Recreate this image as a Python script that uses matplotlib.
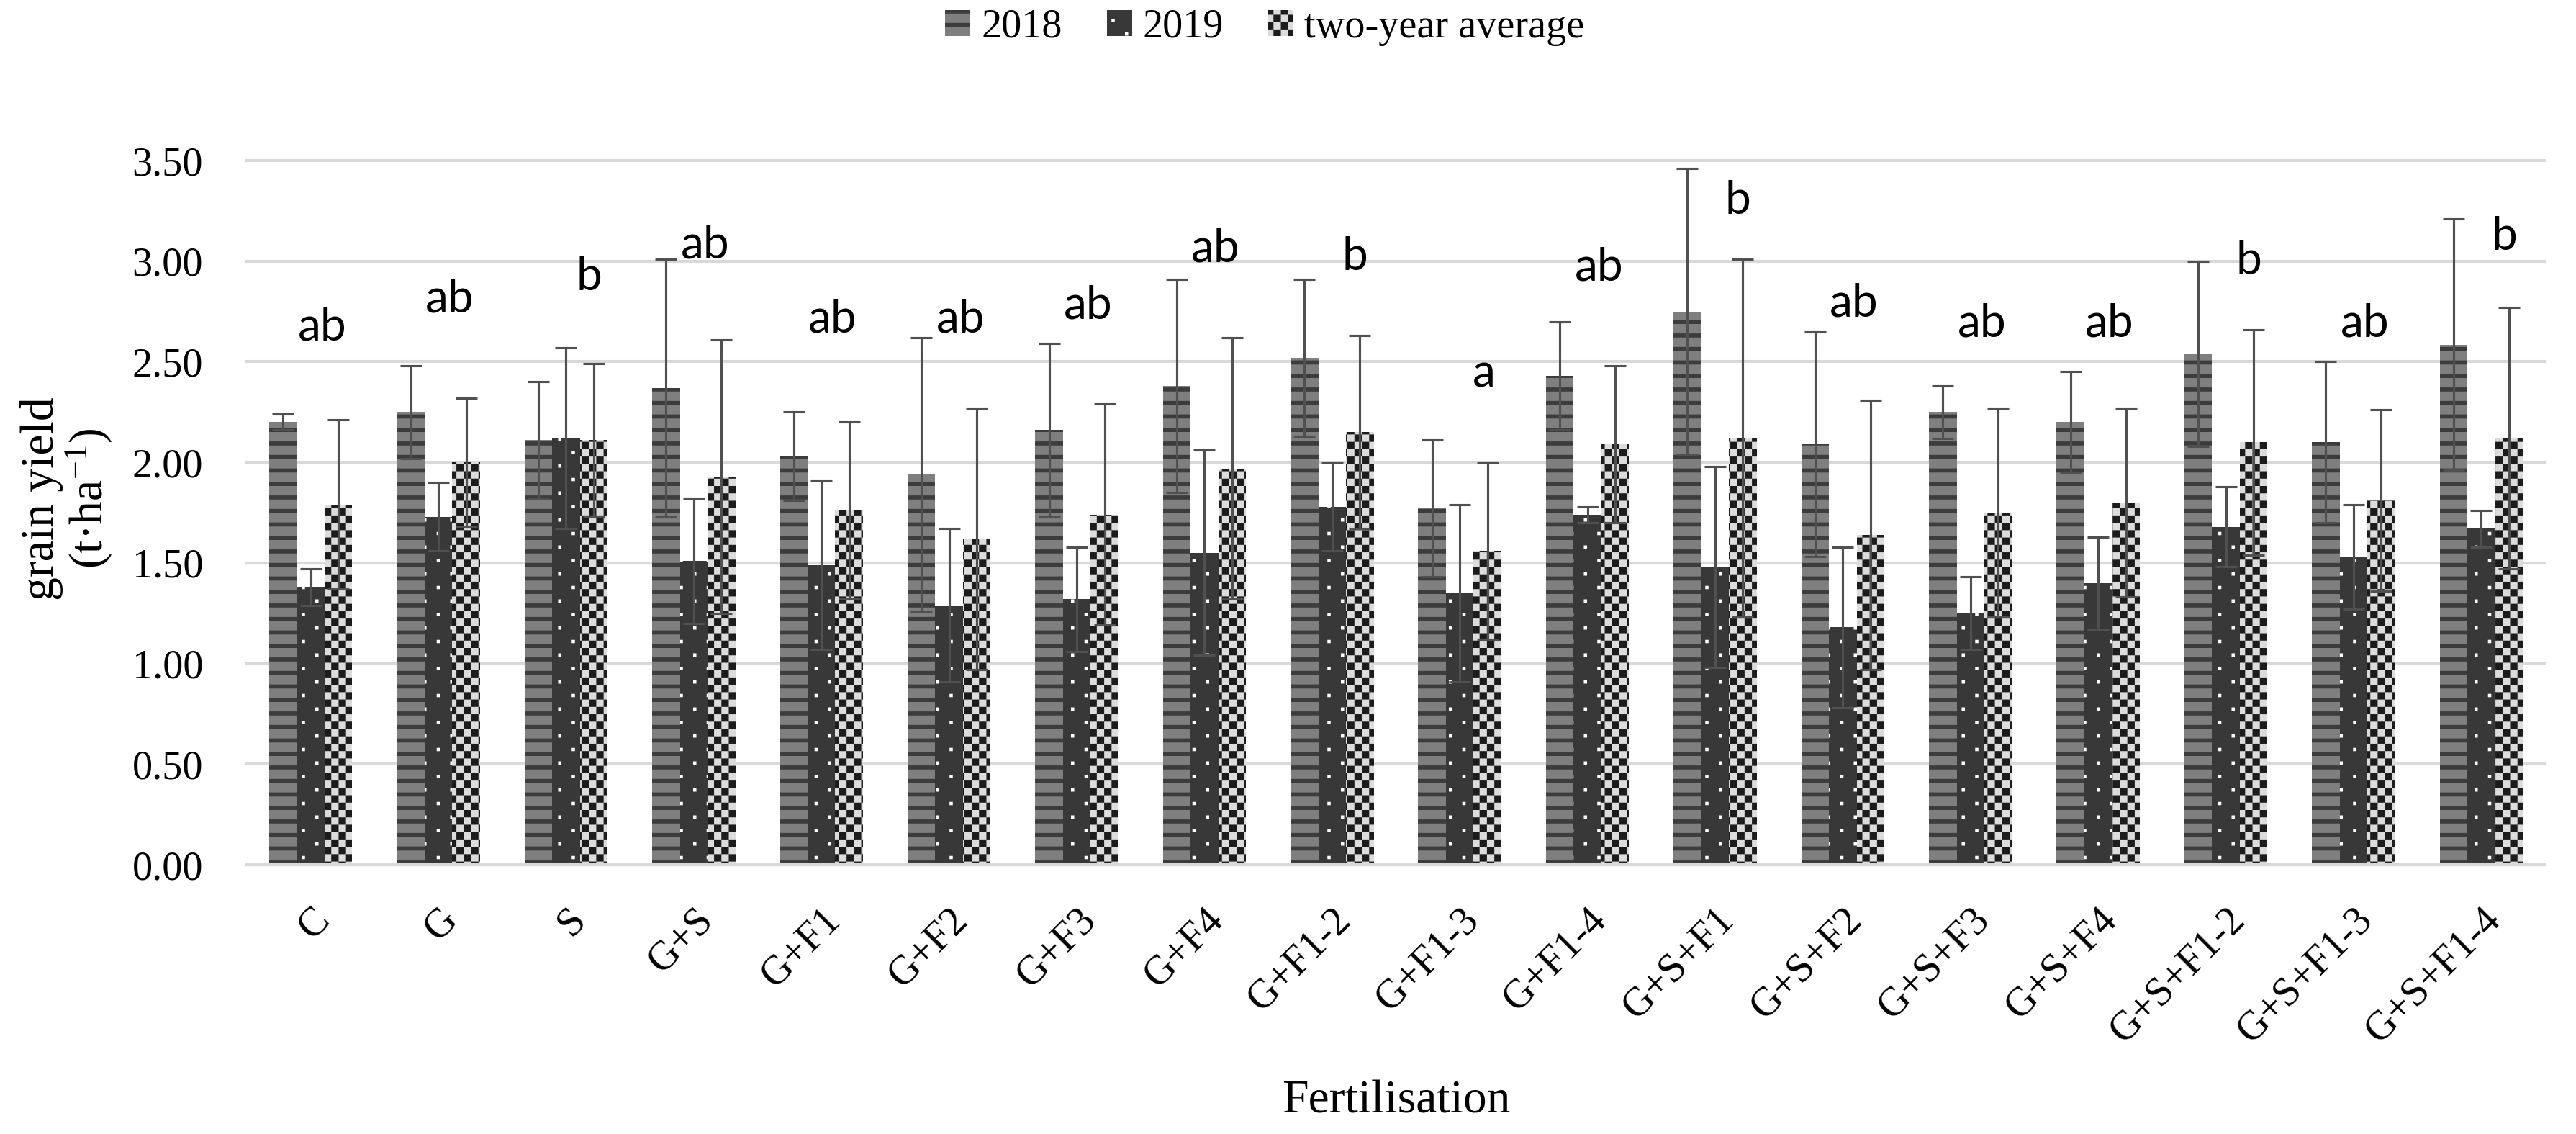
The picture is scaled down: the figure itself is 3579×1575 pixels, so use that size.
import matplotlib
matplotlib.use("Agg")
import matplotlib.pyplot as plt, numpy as np
from matplotlib import hatch as mhatch
from matplotlib.path import Path

treatments = ["C", "G", "S", "G+S", "G+F1", "G+F2", "G+F3", "G+F4", "G+F1-2", "G+F1-3", "G+F1-4",
              "G+S+F1", "G+S+F2", "G+S+F3", "G+S+F4", "G+S+F1-2", "G+S+F1-3", "G+S+F1-4"]
yield_2018 = [2.20, 2.25, 2.11, 2.37, 2.03, 1.94, 2.16, 2.38, 2.52, 1.77, 2.43, 2.75, 2.09, 2.25, 2.20, 2.54, 2.10, 2.585]
sd_2018 = [0.04, 0.23, 0.29, 0.64, 0.22, 0.68, 0.43, 0.53, 0.39, 0.34, 0.27, 0.71, 0.56, 0.13, 0.25, 0.46, 0.40, 0.625]
yield_2019 = [1.38, 1.73, 2.12, 1.51, 1.49, 1.29, 1.32, 1.55, 1.78, 1.35, 1.74, 1.48, 1.18, 1.25, 1.40, 1.68, 1.53, 1.67]
sd_2019 = [0.09, 0.17, 0.45, 0.31, 0.42, 0.38, 0.26, 0.51, 0.22, 0.44, 0.04, 0.50, 0.40, 0.18, 0.23, 0.20, 0.26, 0.09]
yield_avg = [1.79, 2.00, 2.11, 1.93, 1.76, 1.62, 1.74, 1.97, 2.15, 1.56, 2.09, 2.12, 1.64, 1.75, 1.80, 2.10, 1.81, 2.12]
sd_avg = [0.42, 0.32, 0.38, 0.68, 0.44, 0.65, 0.55, 0.65, 0.48, 0.44, 0.39, 0.89, 0.67, 0.52, 0.47, 0.56, 0.45, 0.65]
letters = ["ab", "ab", "b", "ab", "ab", "ab", "ab", "ab", "b", "a", "ab", "b", "ab", "ab", "ab", "b", "ab", "b"]
letter_y = [2.67, 2.81, 2.92, 3.08, 2.71, 2.71, 2.78, 3.06, 3.02, 2.44, 2.97, 3.30, 2.79, 2.69, 2.69, 3.00, 2.69, 3.12]


class BoxHatch(mhatch.HatchPatternBase):
    """Hatch built from filled boxes (x, y, w, h) in the unit tile (1 inch)"""
    char = None
    def __init__(self, hatch, density):
        self.boxes = self.make_boxes() if self.char in hatch else []
        self.num_vertices = 5 * len(self.boxes)

    def set_vertices_and_codes(self, vertices, codes):
        for k, (x, y, w, h) in enumerate(self.boxes):
            vertices[5*k:5*k+5] = [(x, y), (x+w, y), (x+w, y+h), (x, y+h), (x, y)]
            codes[5*k:5*k+5] = [Path.MOVETO, Path.LINETO, Path.LINETO, Path.LINETO, Path.CLOSEPOLY]

class Stripes(BoxHatch):
    char = "-"
    def make_boxes(self):
        return [(0, i/12, 1, 0.025) for i in range(12)]

class Dots(BoxHatch):
    char = "."
    def make_boxes(self):
        return [(c/6 + (r % 2)/12 + 0.03, r/12 + 0.03, 0.02, 0.02) for r in range(12) for c in range(6)]

class Checker(BoxHatch):
    char = "x"
    def make_boxes(self):
        n = 22
        return [(i/n, j/n, 1/n, 1/n) for i in range(n) for j in range(n) if (i + j) % 2 == 0]

mhatch._hatch_types[:] = [Stripes, Dots, Checker] # Excel-like fill textures

plt.rcParams["font.family"] = ["Liberation Serif", "DejaVu Serif"]
plt.rcParams["mathtext.fontset"] = "custom"
plt.rcParams["mathtext.rm"] = "Liberation Serif"
plt.rcParams["mathtext.it"] = "Liberation Serif:italic"
plt.rcParams["hatch.linewidth"] = 0.01

fig = plt.figure(figsize=(3579/225, 1575/225), dpi=225)
ax = fig.add_axes([343/3579, 374/1575, 3193/3579, 978/1575])

x = np.arange(len(treatments))
w = 0.217
series = [(yield_2018, sd_2018, "2018", "#7f7f7f", "#3c3c3c", "-"),
          (yield_2019, sd_2019, "2019", "#383838", "#ffffff", "."),
          (yield_avg, sd_avg, "two-year average", "#dcdcdc", "#1c1c1c", "x")]
for k, (vals, sd, name, face, hcol, pattern) in enumerate(series):
    ax.bar(x + (k - 1)*w, vals, w, color=face, edgecolor=hcol, linewidth=0, hatch=pattern, label=name,
           yerr=sd, error_kw=dict(ecolor="#505050", elinewidth=1.0, capsize=4.8, capthick=1.0, zorder=3),
           zorder=2)

for i, (txt, ly) in enumerate(zip(letters, letter_y)):
    ax.text(i + 0.28, ly, txt, ha="right", va="center", fontsize=20.5, family="Lato")

ax.set_xlim(-0.5, len(treatments) - 0.5)
ax.set_ylim(0, 3.5)
ax.set_yticks(np.arange(0, 3.51, 0.5))
ax.yaxis.set_major_formatter("{x:.2f}")
ax.set_xticks(x, treatments, rotation=45, ha="right", va="top", rotation_mode="anchor")
ax.tick_params(axis="y", length=0, pad=19.5, labelsize=18)
ax.tick_params(axis="x", length=0, pad=16, labelsize=18)
ax.yaxis.grid(True, color="#d9d9d9", linewidth=1.3)
ax.set_axisbelow(True)
for line in ax.get_ygridlines():
    line.set_clip_on(False)
for side in ["top", "right", "left"]:
    ax.spines[side].set_visible(False)
ax.spines["bottom"].set(color="#d9d9d9", linewidth=1.3)

ax.set_ylabel("grain yield\n(t·ha$^{-1}$)", fontsize=21, linespacing=1.0, va="center")
ax.yaxis.set_label_coords(-0.0783, 0.52)
ax.set_xlabel("Fertilisation", fontsize=21, va="center")
ax.xaxis.set_label_coords(0.5, -0.336)

ax.legend(loc="center", bbox_to_anchor=(0.491, 0.976), bbox_transform=fig.transFigure, ncol=3,
          frameon=False, fontsize=18, handlelength=0.62, handleheight=0.6, handletextpad=0.27,
          columnspacing=1.1, borderpad=0)

fig.savefig("out.png", dpi=225)
